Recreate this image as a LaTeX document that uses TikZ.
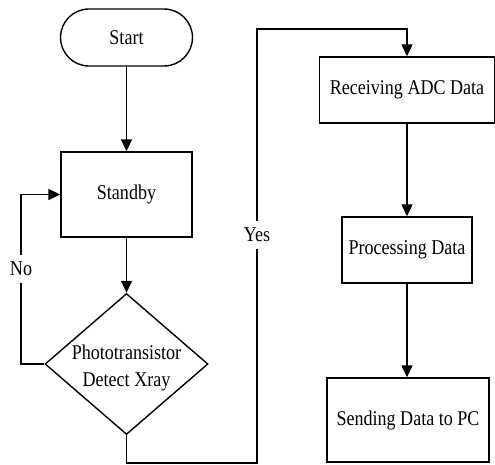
\documentclass[tikz,border=0pt]{standalone}
\usepackage{fontspec}
\setmainfont[FakeStretch=0.86]{Liberation Serif}
\usetikzlibrary{arrows.meta,shapes.geometric}

\tikzset{
  flow/.style={line width=1.4pt, draw=black},
  arr/.style={flow, -{Triangle[length=12pt,width=11pt]}},
  box/.style={draw, line width=1.4pt, inner sep=0pt, align=center},
  lab/.style={fill=white, inner xsep=1pt, inner ysep=7pt},
}

\begin{document}
\begin{tikzpicture}[x=1pt,y=-1pt,font=\fontsize{21}{27}\selectfont]
  \useasboundingbox (0,0) rectangle (495,464);

  % left column
  \node[box, rounded corners=28.5pt, minimum width=132pt, minimum height=57pt] (start) at (126.5,37.5) {Start};
  \node[box, minimum width=131pt, minimum height=85pt] (standby) at (126.5,194.5) {Standby};
  \node[diamond, draw, line width=1.4pt, inner sep=0pt, minimum width=163pt, minimum height=141pt] (detect) at (126.5,364) {};
  \node[align=center, inner sep=0pt] (detecttext) at (126.5,368) {Phototransistor\\Detect Xray};

  % right column
  \node[box, minimum width=175pt, minimum height=66pt] (recv) at (407,90) {Receiving ADC Data};
  \node[box, minimum width=130pt, minimum height=66pt] (proc) at (407,250) {Processing Data};
  \node[box, minimum width=162pt, minimum height=84pt] (send) at (408,420) {Sending Data to PC};

  % routing corners
  \coordinate (nocorner) at (21,364);
  \coordinate (yesbottom) at (257,463);
  \coordinate (yestop) at (257,29);

  % main flow
  \draw[arr] (start) -- (standby);
  \draw[arr] (standby) -- (detect.north);
  \draw[arr] (recv) -- (proc);
  \draw[arr] (proc) -- (send.north -| proc.south);

  % "No" loop back to standby
  \draw[arr] (detect.west) -- (nocorner) -- node[lab, pos=0.56] {No} (nocorner |- standby.west) -- (standby.west);

  % "Yes" branch to data reception
  \draw[arr] (detect.south) |- (yesbottom) -- node[lab, pos=0.525] {Yes} (yestop) -| (recv.north);
\end{tikzpicture}
\end{document}
